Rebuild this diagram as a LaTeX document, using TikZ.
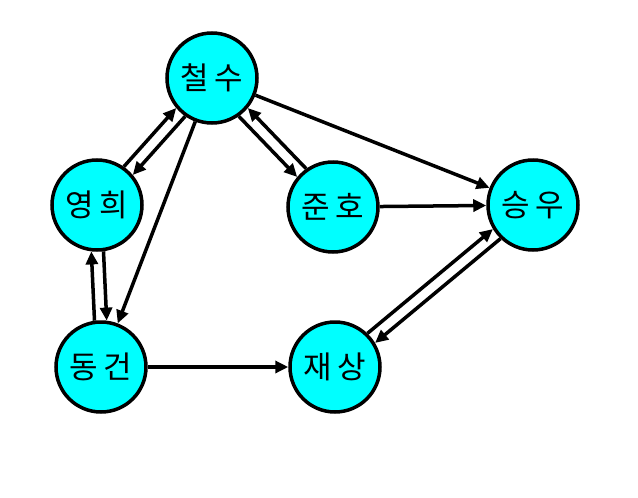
\documentclass[tikz,border=0pt]{standalone}
\usepackage{fontspec}
\newfontfamily\kofont{Noto Sans CJK KR}
\usetikzlibrary{arrows.meta}
\definecolor{nodecyan}{RGB}{0,255,255}
\begin{document}
\begin{tikzpicture}[x=1pt,y=-1pt,
  person/.style={circle,draw=black,fill=nodecyan,line width=3.5pt,minimum size=90pt,inner sep=0pt,
    font=\kofont\fontsize{31}{31}\selectfont},
  arr/.style={line width=3.5pt,-{Triangle[length=13pt,width=12pt]}}]
\useasboundingbox (0,0) rectangle (638,498);
\node[person] (cs) at (212,78) {철\,수};
\node[person] (yh) at (97,205) {영\,희};
\node[person] (jh) at (333,207) {준\,호};
\node[person] (sw) at (533,205) {승\,우};
\node[person] (dg) at (101,367) {동\,건};
\node[person] (js) at (335,367) {재\,상};
% yh <-> cs
\draw[arr] (yh.55.6) -- (cs.220.6);
\draw[arr] (cs.235.6) -- (yh.40.6);
% yh <-> dg
\draw[arr] (dg.98.5) -- (yh.263.5);
\draw[arr] (yh.278.5) -- (dg.83.5);
% cs <-> jh
\draw[arr] (jh.125.67) -- (cs.320.67);
\draw[arr] (cs.305.67) -- (jh.140.67);
% js <-> sw
\draw[arr] (js.46.79) -- (sw.211.79);
\draw[arr] (sw.226.79) -- (js.31.79);
% singles
\draw[arr] (cs) -- (sw);
\draw[arr] (jh) -- (sw);
\draw[arr] (cs) -- (dg);
\draw[arr] (dg) -- (js);
\end{tikzpicture}
\end{document}
